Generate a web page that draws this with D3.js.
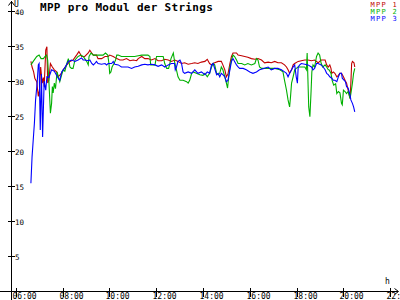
<!DOCTYPE html>
<html>
<head>
<meta charset="utf-8">
<script src="https://cdn.jsdelivr.net/npm/d3@7"></script>
<style>
  body { margin: 0; background: #fff; }
  svg { display: block; }
  text { font-family: "DejaVu Sans Mono", monospace; fill: #000; }
</style>
</head>
<body>
<svg id="chart"></svg>
<script>
// tick labels
const xTicks = [6, 8, 10, 12, 14, 16, 18, 20, 22];
const yTicks = [5, 10, 15, 20, 25, 30, 35, 40];
const seriesNames = ["MPP 1", "MPP 2", "MPP 3"];
const seriesColors = ["#c00000", "#00b000", "#0000ff"];

// MPP 1
const times1 = ["6:39","6:42","6:46","6:49","6:54","6:58","7:01","7:04","7:08","7:11","7:13","7:17","7:20","7:22","7:25","7:29","7:34","7:39","7:45","7:49","7:56","8:02","8:11","8:19","8:27","8:36","8:42","8:49","8:57","9:06","9:10","9:15","9:19","9:27","9:31","9:40","9:49","9:57","10:01","10:10","10:19","10:27","10:35","10:44","10:53","11:01","11:10","11:14","11:23","11:31","11:39","11:48","11:57","12:05","12:14","12:22","12:31","12:39","12:48","12:56","13:05","13:13","13:22","13:31","13:39","13:47","13:56","14:05","14:11","14:17","14:22","14:26","14:30","14:39","14:47","14:51","14:56","15:00","15:04","15:09","15:13","15:17","15:26","15:30","15:39","15:47","15:55","16:04","16:13","16:21","16:30","16:38","16:47","16:55","17:04","17:12","17:21","17:29","17:34","17:38","17:42","17:47","17:51","17:55","18:04","18:12","18:21","18:29","18:38","18:46","18:55","19:03","19:13","19:17","19:21","19:25","19:28","19:30","19:34","19:38","19:43","19:47","19:51","19:55","20:00","20:04","20:08","20:12","20:17","20:19","20:21","20:23","20:27","20:29"];
const values1 = [32.8,32.0,31.3,30.4,29.9,27.8,28.7,32.0,29.7,30.5,29.2,34.4,34.9,29.7,30.1,32.5,32.0,31.6,31.3,30.6,31.0,31.6,32.3,32.8,33.0,33.7,34.2,33.5,33.5,34.0,34.4,34.0,33.7,33.7,33.2,33.2,33.5,33.5,33.7,33.5,33.2,33.0,33.0,33.2,32.9,33.0,32.9,33.2,33.5,33.2,33.2,33.0,33.2,32.9,32.9,33.1,33.0,32.8,33.0,32.8,32.5,32.6,32.4,32.5,32.6,32.5,32.7,32.8,33.1,32.5,32.3,32.5,32.6,32.8,32.8,32.3,31.6,30.6,31.0,32.5,33.5,34.0,34.0,33.7,33.6,33.5,33.4,33.2,33.1,33.2,33.0,32.6,32.7,32.6,32.8,32.6,32.6,32.3,32.0,31.6,31.1,31.6,32.3,32.5,32.8,32.9,33.0,33.0,32.9,33.0,32.6,33.0,33.0,32.3,32.0,32.3,31.8,31.1,31.3,31.1,30.6,30.8,31.1,31.1,30.6,30.1,29.7,28.7,27.5,29.7,32.5,32.8,32.6,32.0];

// MPP 2
const times2 = ["6:39","6:45","6:54","7:00","7:05","7:11","7:15","7:19","7:22","7:25","7:29","7:32","7:34","7:36","7:39","7:42","7:46","7:49","7:53","7:58","8:02","8:06","8:11","8:15","8:19","8:23","8:27","8:32","8:40","8:47","8:53","8:57","9:02","9:06","9:08","9:13","9:19","9:27","9:36","9:44","9:50","9:56","9:59","10:01","10:04","10:07","10:12","10:16","10:19","10:23","10:31","10:40","10:48","10:57","11:05","11:14","11:23","11:31","11:39","11:44","11:46","11:57","12:01","12:10","12:18","12:22","12:27","12:32","12:38","12:44","12:48","12:52","12:56","13:01","13:09","13:18","13:22","13:26","13:31","13:35","13:43","13:52","14:00","14:05","14:11","14:17","14:22","14:26","14:30","14:35","14:39","14:43","14:47","14:51","14:56","15:00","15:03","15:05","15:09","15:13","15:17","15:21","15:26","15:30","15:39","15:47","15:55","16:04","16:13","16:17","16:21","16:25","16:30","16:38","16:51","17:04","17:17","17:25","17:29","17:34","17:38","17:42","17:44","17:47","17:51","17:55","17:59","18:04","18:12","18:21","18:25","18:27","18:31","18:34","18:37","18:39","18:42","18:46","18:51","18:55","18:59","19:03","19:07","19:13","19:17","19:21","19:23","19:28","19:31","19:35","19:40","19:43","19:47","19:51","19:55","19:57","20:00","20:04","20:08","20:12","20:17","20:19","20:23","20:26","20:29"];
const values2 = [32.3,32.8,33.5,33.7,33.2,33.2,33.5,33.7,33.0,30.1,25.4,26.8,29.2,28.3,29.7,28.9,31.3,30.7,29.9,30.9,31.6,31.4,32.5,33.2,32.0,31.8,31.8,33.0,33.5,33.7,33.5,33.2,32.8,32.3,33.5,34.0,33.7,33.7,33.7,33.7,34.0,33.7,32.5,31.1,31.3,32.0,32.5,33.0,33.7,33.7,33.5,33.5,33.5,33.5,33.5,33.6,33.7,33.7,33.7,33.5,32.3,32.3,33.5,33.5,33.5,32.5,31.8,31.8,33.2,34.0,32.5,31.6,30.6,30.1,30.1,29.9,29.7,30.1,31.1,31.3,31.1,30.9,30.8,31.1,30.6,31.1,32.0,32.5,32.3,31.1,30.9,31.1,32.0,31.6,30.6,29.7,29.0,30.1,32.0,33.0,33.7,33.5,33.0,32.5,32.5,32.3,32.5,32.3,32.5,33.2,33.0,32.0,31.8,31.8,31.8,31.8,31.6,31.3,30.1,28.7,27.3,26.3,27.5,29.7,30.6,31.6,31.8,32.0,32.0,32.0,31.6,34.0,26.3,24.9,28.5,31.3,32.3,32.0,33.5,34.0,33.7,32.5,32.0,32.3,32.0,31.6,31.6,31.1,30.1,29.4,29.6,28.2,28.5,28.3,26.8,26.6,28.7,28.5,28.2,28.5,27.5,28.2,29.7,31.1,31.8];

// MPP 3
const times3 = ["6:39","6:42","6:45","6:48","6:51","6:55","6:58","7:00","7:03","7:06","7:09","7:13","7:17","7:20","7:25","7:32","7:39","7:49","7:53","7:58","8:06","8:15","8:23","8:32","8:40","8:49","8:53","8:57","9:06","9:10","9:15","9:19","9:23","9:27","9:31","9:40","9:49","9:53","9:57","10:06","10:10","10:14","10:23","10:31","10:40","10:48","10:57","11:05","11:14","11:23","11:31","11:39","11:48","11:57","12:05","12:14","12:22","12:31","12:39","12:47","12:49","12:52","12:56","13:01","13:05","13:09","13:13","13:22","13:31","13:39","13:47","13:56","14:05","14:11","14:17","14:22","14:26","14:35","14:39","14:43","14:47","14:51","14:56","15:00","15:04","15:09","15:13","15:17","15:21","15:26","15:30","15:34","15:43","15:51","16:00","16:08","16:17","16:25","16:36","16:47","16:55","17:04","17:12","17:21","17:29","17:34","17:38","17:42","17:47","17:51","17:55","17:59","18:02","18:04","18:08","18:12","18:21","18:29","18:38","18:42","18:46","18:51","18:55","19:03","19:08","19:13","19:17","19:21","19:25","19:30","19:34","19:38","19:43","19:47","19:51","19:55","19:57","20:02","20:05","20:08","20:12","20:17","20:19","20:23","20:26","20:29"];
const values3 = [15.4,19.2,21.6,24.0,27.3,29.7,32.3,32.5,23.0,31.0,22.0,30.0,28.7,30.6,30.5,31.6,31.4,30.4,30.1,31.3,31.9,32.8,33.0,32.8,33.0,33.3,33.0,33.0,32.9,33.0,32.5,32.3,32.5,32.8,32.5,32.4,32.5,32.3,32.5,32.5,32.8,32.4,32.3,32.0,32.0,32.0,31.8,32.0,32.1,32.3,32.4,32.3,32.4,32.3,32.1,32.3,32.0,32.3,32.5,32.5,31.6,32.0,32.8,33.0,32.5,31.3,31.1,31.3,31.1,31.6,31.1,31.3,30.9,31.3,31.1,32.3,32.5,30.9,31.1,30.6,31.1,30.9,30.6,29.9,30.1,31.6,32.8,33.2,32.8,32.3,32.0,31.8,31.8,31.6,31.3,31.1,31.3,31.6,31.8,32.0,31.6,31.8,31.8,31.6,31.3,31.1,30.6,31.1,31.6,32.0,32.3,30.6,29.7,32.0,32.3,32.5,32.4,32.3,32.0,31.6,31.8,32.5,32.5,32.3,32.0,31.6,31.1,30.9,30.6,30.4,30.1,30.1,29.9,30.6,31.1,31.1,30.4,30.1,29.9,29.2,29.0,28.0,27.3,26.8,26.3,25.6];

const width = 400;
const height = 300;

const svg = d3.select("#chart")
    .attr("width", width)
    .attr("height", height);

// 5:48 is where the axes cross, arrow ends a bit after 22:00
const x = d3.scaleLinear().domain([5.8, 22.33]).range([11, 398]);
const y = d3.scaleLinear().domain([0, 40]).range([291, 11]);

const toHours = t => {
    const [h, m] = t.split(":").map(Number);
    return h + m / 60;
};

const series = [
    { times: times1, values: values1 },
    { times: times2, values: values2 },
    { times: times3, values: values3 }
].map((s, i) => ({
    name: seriesNames[i],
    color: seriesColors[i],
    points: s.times.map((t, j) => [toHours(t), s.values[j]])
}));

const line = d3.line()
    .x(d => x(d[0]))
    .y(d => y(d[1]));

// lines
svg.selectAll(".series")
    .data(series)
    .enter()
    .append("path")
    .attr("class", "series")
    .attr("d", d => line(d.points))
    .attr("fill", "none")
    .attr("stroke", d => d.color)
    .attr("stroke-width", 1.1)
    .attr("stroke-linejoin", "miter");

// axes
const axes = svg.append("g")
    .attr("stroke", "#000")
    .attr("stroke-width", 1)
    .attr("shape-rendering", "crispEdges");

axes.append("line")
    .attr("x1", 11.5).attr("x2", 11.5)
    .attr("y1", 1).attr("y2", 300);
axes.append("line")
    .attr("x1", 0).attr("x2", 398)
    .attr("y1", 291.5).attr("y2", 291.5);

// arrow heads
svg.append("path")
    .attr("d", "M8.5,5.5L11.5,1.5L14.5,5.5")
    .attr("fill", "none").attr("stroke", "#000");
svg.append("path")
    .attr("d", "M394.5,288.5L398.5,291.5L394.5,294.5")
    .attr("fill", "none").attr("stroke", "#000");

// y ticks
const yt = svg.selectAll(".ytick")
    .data(yTicks)
    .enter()
    .append("g")
    .attr("class", "ytick")
    .attr("transform", d => `translate(0, ${Math.round(y(d)) + 0.5})`);

yt.append("line")
    .attr("x1", 8).attr("x2", 15)
    .attr("stroke", "#000")
    .attr("shape-rendering", "crispEdges");

yt.append("text")
    .attr("x", 15)
    .attr("y", 3)
    .attr("font-size", 7.5)
    .text(d => d);

// x ticks
const xt = svg.selectAll(".xtick")
    .data(xTicks)
    .enter()
    .append("g")
    .attr("class", "xtick")
    .attr("transform", d => `translate(${Math.round(x(d)) + 0.5}, 0)`);

xt.append("line")
    .attr("y1", 288).attr("y2", 297)
    .attr("stroke", "#000")
    .attr("shape-rendering", "crispEdges");

xt.append("text")
    .attr("x", -4)
    .attr("y", 299)
    .attr("font-size", 8)
    .text(d => d3.format("02")(d) + ":00");

// axis units
svg.append("text")
    .attr("x", 14).attr("y", 7)
    .attr("font-size", 8)
    .text("U");

svg.append("text")
    .attr("x", 385).attr("y", 284)
    .attr("font-size", 8)
    .text("h");

// title
svg.append("text")
    .attr("x", 40).attr("y", 11)
    .attr("font-size", 11)
    .attr("font-weight", "bold")
    .attr("letter-spacing", 0.3)
    .text("MPP pro Modul der Strings");

// legend
svg.selectAll(".legend")
    .data(series)
    .enter()
    .append("text")
    .attr("class", "legend")
    .attr("x", 398)
    .attr("y", (d, i) => 6.5 + i * 7.3)
    .attr("text-anchor", "end")
    .attr("font-size", 7)
    .attr("letter-spacing", 1.3)
    .style("fill", d => d.color)
    .text(d => d.name);
</script>
</body>
</html>
